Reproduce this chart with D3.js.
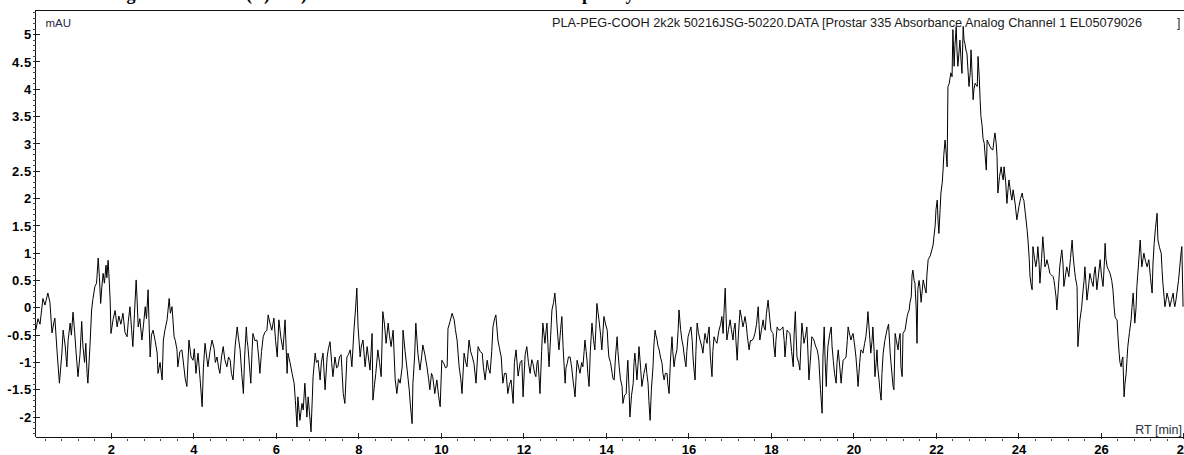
<!DOCTYPE html>
<html>
<head>
<meta charset="utf-8">
<script src="https://cdn.jsdelivr.net/npm/d3@7"></script>
<style>
  html, body { margin: 0; padding: 0; background: #fff; overflow: hidden; }
  svg { display: block; }
</style>
</head>
<body>
<div id="chart"></div>
<script>
// chromatogram trace: [retention time (min), signal (mAU)]
const trace = [
  [0.17,-0.40],[0.22,-0.20],[0.27,-0.30],[0.34,0.17],[0.39,0.05],[0.46,0.27],[0.51,0.10],[0.56,-0.46],[0.61,-0.25],[0.63,-0.19],
  [0.68,-0.77],[0.74,-1.38],[0.80,-0.83],[0.83,-0.41],[0.88,-0.70],[0.92,-1.08],[0.95,-0.60],[1.00,-0.28],[1.03,-0.50],[1.07,-0.08],
  [1.11,-0.45],[1.14,-0.77],[1.19,-1.26],[1.24,-0.85],[1.28,-0.25],[1.31,-0.70],[1.35,-1.00],[1.38,-0.65],[1.41,-1.20],[1.43,-1.38],
  [1.48,-0.71],[1.52,-0.04],[1.55,0.15],[1.60,0.39],[1.64,0.45],[1.68,0.91],[1.71,0.55],[1.74,0.08],[1.77,0.40],[1.80,0.63],
  [1.83,0.45],[1.87,0.78],[1.89,0.55],[1.92,0.87],[1.94,0.60],[1.97,0.14],[1.99,-0.47],[2.04,-0.22],[2.09,-0.05],[2.14,-0.35],
  [2.18,-0.15],[2.23,-0.30],[2.28,-0.10],[2.33,-0.45],[2.38,-0.53],[2.41,-0.25],[2.45,0.02],[2.49,-0.40],[2.52,-0.71],[2.56,-0.10],
  [2.60,0.51],[2.62,0.20],[2.65,-0.35],[2.69,-0.20],[2.74,-0.59],[2.78,-0.30],[2.82,0.02],[2.85,-0.20],[2.89,0.33],[2.91,-0.20],
  [2.94,-0.90],[2.97,-0.50],[3.01,-0.41],[3.06,-0.60],[3.11,-0.83],[3.13,-1.20],[3.18,-1.00],[3.23,-1.32],[3.26,-0.59],[3.30,-0.40],
  [3.35,-0.22],[3.40,0.17],[3.43,-0.10],[3.47,0.02],[3.52,-0.53],[3.55,-0.60],[3.59,-0.77],[3.61,-1.08],[3.66,-0.80],[3.71,-0.77],
  [3.76,-1.10],[3.79,-1.30],[3.83,-1.44],[3.88,-0.59],[3.93,-0.90],[3.98,-0.96],[4.01,-0.75],[4.05,-1.20],[4.10,-0.83],[4.15,-1.30],
  [4.20,-1.81],[4.23,-1.10],[4.27,-0.65],[4.31,-0.90],[4.34,-1.08],[4.39,-0.80],[4.44,-0.59],[4.49,-0.75],[4.52,-1.00],[4.56,-0.90],
  [4.60,-1.10],[4.63,-1.20],[4.67,-0.90],[4.71,-0.71],[4.75,-0.95],[4.80,-1.08],[4.84,-0.90],[4.88,-0.96],[4.91,-1.20],[4.95,-1.32],
  [5.00,-0.70],[5.05,-0.35],[5.08,-0.55],[5.12,-0.77],[5.16,-1.20],[5.20,-1.57],[5.23,-0.90],[5.27,-0.35],[5.29,-0.60],[5.31,-0.71],
  [5.35,-1.10],[5.38,-1.38],[5.41,-0.80],[5.43,-0.47],[5.48,-0.60],[5.53,-0.59],[5.57,-0.90],[5.60,-1.20],[5.64,-0.80],[5.68,-0.53],
  [5.72,-0.45],[5.77,-0.41],[5.80,-0.13],[5.85,-0.30],[5.89,-0.41],[5.94,-0.19],[5.98,-0.60],[6.02,-0.90],[6.06,-0.22],
  [6.11,-0.55],[6.16,-0.77],[6.21,-0.22],[6.26,-1.20],[6.28,-0.83],[6.33,-1.00],[6.38,-1.20],[6.43,-1.38],[6.46,-1.70],[6.50,-2.18],
  [6.52,-1.63],[6.57,-2.06],[6.62,-1.75],[6.65,-1.87],[6.69,-1.38],[6.74,-2.00],[6.77,-1.63],[6.80,-1.90],[6.84,-2.27],[6.89,-1.26],
  [6.94,-0.83],[6.97,-1.00],[7.01,-0.96],[7.06,-1.32],[7.09,-1.00],[7.13,-0.83],[7.18,-1.50],[7.23,-0.90],[7.26,-0.75],[7.30,-0.62],
  [7.34,-1.00],[7.37,-1.26],[7.42,-0.90],[7.46,-1.10],[7.49,-1.08],[7.53,-0.90],[7.57,-0.86],[7.62,-1.57],[7.66,-1.75],[7.71,-0.90],
  [7.75,-0.85],[7.79,-0.77],[7.83,-1.08],[7.88,-0.41],[7.92,0.00],[7.95,0.36],[7.98,-0.35],[8.03,-0.90],[8.06,-0.70],[8.10,-0.59],
  [8.15,-1.08],[8.20,-0.71],[8.23,-0.90],[8.27,-1.14],[8.32,-0.47],[8.34,-1.69],[8.38,-1.40],[8.41,-1.20],[8.46,-0.77],[8.50,-1.00],
  [8.54,-1.26],[8.58,-0.07],[8.62,-0.30],[8.66,-0.65],[8.71,-0.28],[8.74,-0.50],[8.78,-0.71],[8.83,-0.41],[8.88,-1.32],[8.92,-1.57],
  [8.96,-1.30],[9.00,-1.38],[9.05,-1.08],[9.07,-0.41],[9.12,-0.80],[9.17,-1.14],[9.22,-1.50],[9.25,-1.80],[9.29,-2.12],[9.31,-1.38],
  [9.35,-0.90],[9.38,-0.28],[9.43,-0.83],[9.48,-1.14],[9.52,-0.90],[9.55,-0.68],[9.60,-0.86],[9.65,-1.08],[9.69,-1.30],[9.72,-1.50],
  [9.76,-1.20],[9.79,-1.26],[9.84,-1.57],[9.89,-1.32],[9.93,-1.60],[9.97,-1.81],[10.01,-0.96],[10.06,-1.02],[10.10,-1.10],[10.14,-1.08],
  [10.16,-0.38],[10.21,-0.25],[10.26,-0.10],[10.31,-0.22],[10.34,-0.40],[10.38,-0.59],[10.43,-1.08],[10.47,-1.30],[10.50,-1.57],[10.55,-0.83],
  [10.59,-1.00],[10.62,-1.08],[10.67,-0.59],[10.71,-0.80],[10.75,-0.90],[10.79,-1.02],[10.84,-1.38],[10.89,-0.71],[10.94,-0.80],[10.99,-0.83],
  [11.02,-1.10],[11.06,-1.32],[11.11,-0.96],[11.14,-1.10],[11.18,-1.20],[11.22,-0.80],[11.25,-0.35],[11.29,-0.20],[11.32,-0.13],[11.37,-0.59],
  [11.41,-0.75],[11.45,-0.90],[11.49,-1.38],[11.53,-1.20],[11.57,-1.20],[11.61,-1.57],[11.65,-1.40],[11.69,-1.32],[11.74,-1.75],[11.77,-1.00],
  [11.81,-0.77],[11.86,-1.25],
  [11.91,-1.00],[11.95,-0.96],[11.98,-1.63],[12.03,-0.86],[12.07,-0.71],[12.11,-1.00],[12.15,-1.20],[12.19,-0.95],[12.22,-1.02],[12.26,-1.20],
  [12.29,-1.26],[12.32,-1.00],[12.34,-0.96],[12.37,-1.30],[12.39,-1.57],[12.43,-0.80],[12.46,-0.28],[12.49,-0.50],[12.51,-0.65],[12.54,-0.40],
  [12.56,-0.28],[12.59,-0.80],[12.61,-1.08],[12.65,-0.50],[12.68,-0.04],[12.72,0.10],[12.75,0.27],[12.78,0.00],[12.80,-0.28],[12.83,-0.60],
  [12.85,-0.77],[12.89,-0.40],[12.92,-0.16],[12.95,-0.71],[12.97,-1.00],[13.00,-1.38],[13.02,-1.10],[13.05,-1.02],[13.08,-0.90],[13.12,-0.90],
  [13.16,-1.10],[13.19,-1.32],[13.22,-1.50],[13.24,-1.63],[13.27,-1.20],[13.29,-0.96],[13.33,-1.10],[13.36,-1.20],[13.40,-1.00],[13.43,-1.08],
  [13.46,-0.80],[13.48,-0.59],[13.51,-0.80],[13.53,-0.96],[13.55,-1.20],[13.58,-1.44],[13.61,-0.80],[13.65,-0.28],[13.69,-0.60],[13.72,-0.77],
  [13.75,-0.30],[13.77,0.08],[13.80,-0.10],[13.82,-0.22],[13.86,-0.50],[13.89,-0.77],[13.92,-0.40],[13.94,-0.16],[13.98,-0.30],[14.02,-0.41],
  [14.04,-0.70],[14.06,-0.90],[14.10,-1.00],[14.14,-1.20],[14.16,-1.30],[14.19,-1.32],[14.22,-0.90],[14.26,-0.53],[14.28,-0.80],[14.31,-1.08],
  [14.34,-1.30],[14.38,-1.44],[14.40,-1.75],[14.44,-1.60],[14.48,-1.57],[14.50,-1.20],[14.52,-0.96],[14.55,-1.50],[14.57,-2.00],[14.61,-1.60],
  [14.65,-1.38],[14.67,-1.00],[14.69,-0.83],[14.72,-1.10],[14.74,-1.32],[14.77,-1.00],[14.79,-0.71],[14.83,-1.10],[14.86,-1.44],[14.89,-1.30],
  [14.91,-1.20],[14.94,-1.10],[14.96,-1.02],[14.98,-1.20],[15.01,-1.38],[15.03,-1.70],[15.06,-2.06],[15.09,-1.50],[15.13,-1.08],[15.15,-0.70],
  [15.18,-0.41],[15.20,-0.50],[15.23,-0.59],[15.25,-0.70],[15.28,-0.77],[15.31,-0.90],[15.35,-1.02],[15.37,-1.20],[15.40,-1.32],[15.43,-1.20],
  [15.47,-1.20],[15.49,-1.40],[15.52,-1.57],[15.55,-1.00],[15.59,-0.53],[15.61,-0.80],[15.64,-1.08],[15.67,-0.90],[15.71,-0.77],[15.74,-0.40],
  [15.76,-0.04],[15.80,-0.40],[15.83,-0.59],[15.86,-0.70],[15.88,-0.83],[15.91,-1.00],[15.93,-1.08],[15.95,-0.80],[15.98,-0.53],[16.01,-0.45],
  [16.05,-0.35],[16.08,-0.60],[16.10,-0.90],[16.12,-1.10],[16.15,-1.32],[16.17,-0.80],[16.20,-0.28],[16.23,-0.45],[16.27,-0.59],[16.31,-0.70],
  [16.34,-0.83],[16.37,-0.60],[16.39,-0.47],[16.41,-0.55],[16.44,-0.65],[16.46,-0.50],[16.49,-0.35],[16.52,-0.90],[16.56,-1.26],[16.58,-0.80],
  [16.61,-0.53],[16.64,-0.60],[16.68,-0.65],[16.71,-0.50],[16.73,-0.41],[16.77,-0.30],[16.80,-0.16],[16.83,-0.47],[16.85,-0.10],[16.88,0.36],
  [16.90,-0.10],[16.92,-0.59],[16.96,-0.40],[17.00,-0.22],[17.03,-0.40],[17.07,-0.59],[17.09,-0.40],[17.12,-0.28],[17.14,-0.60],[17.17,-0.96],
  [17.20,-0.50],[17.24,-0.04],[17.28,-0.20],[17.31,-0.35],[17.34,-0.25],[17.36,-0.16],[17.39,-0.30],[17.41,-0.47],[17.43,-0.60],[17.46,-0.77],
  [17.49,-0.60],[17.53,-0.60],
  [17.57,-0.55],[17.60,-0.47],[17.64,-0.30],[17.68,0.02],[17.70,-0.30],[17.72,-0.59],[17.76,-0.40],[17.80,-0.22],[17.82,-0.35],[17.85,-0.41],
  [17.88,-0.10],[17.92,0.14],[17.96,-0.20],[17.99,-0.41],[18.02,-0.45],[18.04,-0.47],[18.06,-0.70],[18.09,-0.90],[18.11,-0.60],[18.14,-0.35],
  [18.17,-0.40],[18.21,-0.41],[18.25,-0.38],[18.28,-0.35],[18.31,-0.60],[18.33,-0.90],[18.36,-0.60],[18.38,-0.41],[18.42,-0.45],[18.45,-0.47],
  [18.49,-0.80],[18.53,-1.08],[18.55,-0.50],[18.58,-0.07],[18.60,-0.50],[18.62,-0.90],[18.66,-1.00],[18.69,-1.14],[18.72,-0.60],[18.74,-0.28],
  [18.77,-0.50],[18.79,-0.65],[18.83,-0.50],[18.86,-0.35],[18.89,-0.90],[18.91,-1.32],[18.95,-0.90],[18.98,-0.53],[19.01,-0.56],[19.03,-0.59],
  [19.07,-0.70],[19.11,-0.77],[19.13,-0.85],[19.15,-0.96],[19.19,-1.50],[19.23,-1.93],[19.25,-0.90],[19.28,-0.35],[19.30,-0.90],[19.33,-1.44],
  [19.35,-1.00],[19.37,-0.71],[19.41,-0.50],[19.45,-0.35],[19.47,-0.70],[19.50,-0.96],[19.53,-1.20],[19.57,-1.38],[19.59,-1.00],[19.62,-0.77],
  [19.66,-1.10],[19.69,-1.38],[19.72,-1.10],[19.74,-0.96],[19.78,-0.93],[19.81,-0.90],[19.84,-0.60],[19.86,-0.35],[19.90,-0.50],[19.93,-0.59],
  [19.96,-0.50],[19.98,-0.47],[20.02,-0.70],[20.05,-0.90],[20.08,-1.20],[20.10,-1.44],[20.14,-1.00],[20.17,-0.77],[20.20,-0.80],[20.22,-0.83],
  [20.26,-0.65],[20.29,-0.53],[20.32,-0.30],[20.34,-0.07],[20.38,-0.50],[20.41,-0.83],[20.44,-0.60],[20.46,-0.35],[20.49,-0.80],[20.51,-1.26],
  [20.54,-1.00],[20.56,-0.77],[20.58,-1.10],[20.61,-1.32],[20.63,-1.50],[20.66,-1.69],[20.68,-1.20],[20.71,-0.83],
  [20.75,-0.60],[20.80,-0.41],[20.84,-0.30],[20.88,-0.83],[20.91,-1.10],[20.95,-1.44],[20.97,-1.50],[21.00,-0.47],[21.03,-0.60],[21.07,-0.77],
  [21.09,-0.60],[21.12,-0.47],[21.14,-1.08],[21.17,-1.26],[21.19,-0.47],[21.24,-0.41],[21.29,-0.16],[21.31,-0.10],[21.34,-0.04],[21.36,0.10],
  [21.39,0.20],[21.41,0.60],[21.43,0.69],[21.46,0.50],[21.48,0.45],[21.51,0.00],[21.53,-0.65],[21.55,0.33],[21.58,0.50],[21.60,0.39],
  [21.63,0.10],[21.68,0.51],[21.71,0.40],[21.75,0.27],[21.77,0.60],[21.80,0.88],[21.85,0.95],[21.89,1.06],[21.92,1.15],[21.94,1.30],
  [21.97,1.50],[21.99,1.80],[22.02,1.97],[22.04,1.60],[22.06,1.36],[22.09,1.80],[22.11,2.10],[22.14,2.28],[22.16,2.50],[22.18,2.80],
  [22.21,3.07],[22.23,2.90],[22.26,2.58],[22.28,4.05],[22.31,4.10],[22.33,4.20],[22.35,4.30],[22.38,4.23],[22.40,5.09],[22.43,4.42],
  [22.45,4.80],[22.48,5.15],[22.50,4.70],[22.52,4.42],[22.55,4.70],[22.57,4.90],[22.60,4.50],[22.62,4.29],[22.65,5.15],[22.67,4.90],
  [22.69,4.84],[22.72,4.70],[22.74,4.66],[22.77,4.30],[22.79,4.05],[22.82,4.30],[22.84,4.72],[22.87,4.20],[22.89,3.81],[22.91,4.00],
  [22.94,4.11],[22.96,4.08],[22.99,4.05],[23.01,4.60],[23.04,4.20],[23.06,3.81],[23.08,3.50],[23.11,3.32],[23.13,3.10],[23.16,3.01],
  [23.18,2.80],[23.21,2.52],[23.23,3.07],[23.27,3.00],[23.30,2.95],[23.34,2.90],[23.37,2.89],[23.40,3.10],[23.42,3.20],[23.45,3.00],
  [23.47,2.77],[23.49,2.10],[23.53,2.40],[23.57,2.58],[23.59,2.45],[23.62,2.34],[23.64,2.58],[23.68,2.30],[23.71,1.91],[23.74,2.20],
  [23.76,2.34],[23.80,2.10],[23.83,1.97],[23.86,2.16],[23.91,1.90],[23.95,1.61],[23.98,1.75],[24.00,1.85],[24.04,2.00],[24.08,2.10],
  [24.10,2.00],[24.12,1.97],[24.16,1.70],[24.20,1.42],[24.22,1.24],[24.25,0.90],[24.27,0.57],[24.29,0.45],[24.32,0.33],[24.34,1.12],
  [24.38,0.90],[24.41,0.75],[24.44,0.90],[24.46,1.12],[24.49,0.80],[24.51,0.45],[24.55,0.90],[24.58,1.30],[24.61,1.00],[24.63,0.75],
  [24.66,0.80],[24.68,0.88],[24.72,0.75],[24.75,0.63],[24.79,0.60],[24.83,0.57],[24.85,0.50],[24.87,0.39],[24.90,0.20],[24.92,-0.04],
  [24.96,0.40],[24.99,0.75],[25.02,0.95],[25.04,1.06],[25.07,0.80],[25.09,0.39],[25.13,0.60],[25.16,0.75],[25.19,0.65],[25.21,0.57],
  [25.25,0.90],[25.29,1.24],[25.31,1.00],[25.34,0.75],[25.37,0.55],[25.41,0.39],[25.43,-0.71],[25.46,-0.40],[25.48,-0.22],[25.52,0.00],
  [25.55,0.27],[25.58,0.50],[25.60,0.75],[25.63,0.40],[25.65,0.14],[25.69,0.40],[25.72,0.63],[25.76,0.50],[25.80,0.39],[25.82,0.60],
  [25.85,0.75],[25.87,0.55],[25.89,0.33],[25.93,0.60],[25.97,0.88],[26.00,0.60],[26.04,0.39],[26.07,0.80],[26.09,1.18],[26.11,0.90],
  [26.14,0.75],[26.17,0.70],[26.21,0.63],[26.25,0.50],[26.28,0.33],[26.31,0.00],[26.33,-0.16],[26.35,-0.20],[26.38,-0.22],[26.40,-0.50],
  [26.43,-0.83],[26.45,-1.00],[26.48,-1.08],[26.50,-0.95],[26.52,-0.90],[26.55,-1.63],[26.57,-1.40],[26.60,-1.20],[26.62,-0.95],[26.64,-0.71],
  [26.68,-0.45],[26.72,-0.22],[26.74,0.00],[26.77,0.27],[26.79,0.00],[26.81,-0.28],[26.84,0.00],[26.86,0.39],[26.90,0.80],[26.94,1.24],
  [26.96,1.00],[26.98,0.75],[27.01,0.90],[27.03,1.00],[27.07,0.85],[27.11,0.75],[27.13,0.82],[27.15,0.88],[27.19,0.55],[27.23,0.27],
  [27.25,0.80],[27.28,1.18],[27.31,1.45],[27.35,1.73],[27.37,1.24],[27.41,1.10],[27.45,1.00],[27.47,0.70],[27.49,0.45],[27.52,0.20],
  [27.54,0.02],[27.57,0.15],[27.59,0.27],[27.63,0.15],[27.66,0.02],[27.70,0.15],[27.74,0.27],[27.76,0.10],[27.78,0.02],[27.81,0.15],
  [27.83,0.27],[27.87,0.50],[27.90,0.75],[27.93,1.00],[27.95,1.12],[27.98,0.02]
];

const yTicks = [-2, -1.5, -1, -0.5, 0, 0.5, 1, 1.5, 2, 2.5, 3, 3.5, 4, 4.5, 5];
const xTicks = [2, 4, 6, 8, 10, 12, 14, 16, 18, 20, 22, 24, 26, 28];
const yUnit = 'mAU';
const xUnit = 'RT [min]';
const runTitle = 'PLA-PEG-COOH 2k2k 50216JSG-50220.DATA [Prostar 335 Absorbance Analog Channel 1 EL05079026';
// bits of the caption line above the chart, mostly cut off by the crop
const captionBits = [['g', 131], ['(', 249], [')', 267], [')', 304], ['p', 587], ['y', 630]];

const W = 1184, H = 455;

const svg = d3.select('#chart').append('svg')
  .attr('width', W)
  .attr('height', H);

const x = d3.scaleLinear().domain([0.165, 28]).range([35.7, 1183.9]);
const y = d3.scaleLinear().domain([-2.37, 5.45]).range([437.3, 10]);

const plotLeft = x.range()[0], plotTop = y.range()[1], plotBottom = y.range()[0];

// caption fragments at the very top
svg.selectAll('text.cap')
  .data(captionBits)
  .enter().append('text')
  .attr('class', 'cap')
  .attr('x', d => d[1])
  .attr('y', 0)
  .attr('text-anchor', 'middle')
  .style('font', 'bold 18px "Liberation Serif", serif')
  .attr('fill', '#000')
  .text(d => d[0]);

// frame
const frame = svg.append('g').attr('stroke', '#111').attr('shape-rendering', 'crispEdges');
frame.append('line').attr('x1', plotLeft).attr('x2', W).attr('y1', plotTop).attr('y2', plotTop);
frame.append('line').attr('x1', plotLeft).attr('x2', plotLeft).attr('y1', plotTop).attr('y2', plotBottom);
frame.append('line').attr('x1', plotLeft).attr('x2', W).attr('y1', plotBottom).attr('y2', plotBottom);

// y minor ticks (every 0.1) and major ticks
const yMinor = d3.range(-23, 55).map(d => d / 10).filter(d => Math.abs(d * 2 - Math.round(d * 2)) > 1e-6);
svg.append('g').attr('stroke', '#444').attr('shape-rendering', 'crispEdges')
  .selectAll('line').data(yMinor).enter().append('line')
  .attr('x1', plotLeft - 3).attr('x2', plotLeft)
  .attr('y1', d => y(d)).attr('y2', d => y(d));

svg.append('g').attr('stroke', '#222').attr('shape-rendering', 'crispEdges')
  .selectAll('line').data(yTicks).enter().append('line')
  .attr('x1', plotLeft - 3).attr('x2', plotLeft + 4)
  .attr('y1', d => y(d)).attr('y2', d => y(d));

svg.append('g')
  .selectAll('text').data(yTicks).enter().append('text')
  .attr('x', plotLeft - 4)
  .attr('y', d => y(d))
  .attr('dy', '0.36em')
  .attr('text-anchor', 'end')
  .style('font', 'bold 13px "Liberation Sans", Arial, sans-serif')
  .style('letter-spacing', '0.5px')
  .attr('fill', '#000')
  .text(d => String(d));

// x minor ticks (every 0.4 min) and major ticks
const xMinor = d3.range(1, 71).map(d => d * 0.4).filter(d => Math.abs(d / 2 - Math.round(d / 2)) > 1e-6);
svg.append('g').attr('stroke', '#444').attr('shape-rendering', 'crispEdges')
  .selectAll('line').data(xMinor).enter().append('line')
  .attr('x1', d => x(d)).attr('x2', d => x(d))
  .attr('y1', plotBottom + 1.5).attr('y2', plotBottom + 4);

svg.append('g').attr('stroke', '#222').attr('shape-rendering', 'crispEdges')
  .selectAll('line').data(xTicks).enter().append('line')
  .attr('x1', d => x(d)).attr('x2', d => x(d))
  .attr('y1', plotBottom - 4).attr('y2', plotBottom + 2);

svg.append('g')
  .selectAll('text').data(xTicks).enter().append('text')
  .attr('x', d => x(d))
  .attr('y', plotBottom + 16.5)
  .attr('text-anchor', 'middle')
  .style('font', 'bold 13px "Liberation Sans", Arial, sans-serif')
  .attr('fill', '#000')
  .text(d => d);

// labels
svg.append('text')
  .attr('x', 45.5).attr('y', 27.3)
  .style('font', '11.5px "Liberation Sans", Arial, sans-serif')
  .attr('fill', '#26264a')
  .text(yUnit);

svg.append('text')
  .attr('x', 1182).attr('y', 433.5)
  .attr('text-anchor', 'end')
  .style('font', '12.5px "Liberation Sans", Arial, sans-serif')
  .attr('fill', '#2c3040')
  .text(xUnit);

svg.append('text')
  .attr('x', 552).attr('y', 27)
  .attr('textLength', 590)
  .attr('lengthAdjust', 'spacingAndGlyphs')
  .style('font', '12px "Liberation Sans", Arial, sans-serif')
  .attr('fill', '#1a1a1a')
  .text(runTitle);

svg.append('text')
  .attr('x', 1177).attr('y', 27)
  .style('font', '12px "Liberation Sans", Arial, sans-serif')
  .attr('fill', '#1a1a1a')
  .text(']');

// signal trace
const line = d3.line()
  .x(d => x(d[0]))
  .y(d => y(d[1]));

svg.append('path')
  .datum(trace)
  .attr('fill', 'none')
  .attr('stroke', '#000')
  .attr('stroke-width', 1)
  .attr('d', line);
</script>
</body>
</html>
